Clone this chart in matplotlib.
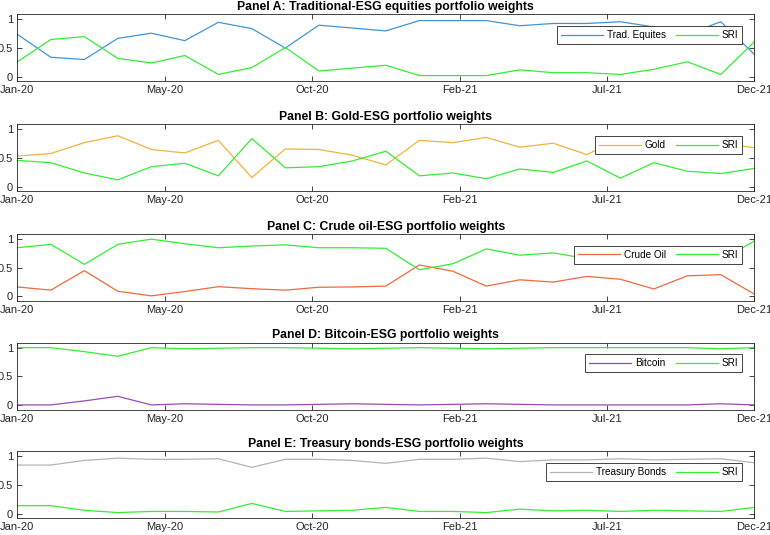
import numpy as np
import matplotlib
matplotlib.use("Agg")
import matplotlib.pyplot as plt

plt.rcParams["font.family"] = ["Liberation Sans", "DejaVu Sans"]

# monthly observations, Jan-20 .. Dec-21
date_labels = ["Jan-20", "May-20", "Oct-20", "Feb-21", "Jul-21", "Dec-21"]
n_obs = 23

# Panel A
equities = [0.74, 0.34, 0.30, 0.67, 0.76, 0.63, 0.95, 0.84, 0.50, 0.90, 0.85, 0.80,
            0.98, 0.98, 0.98, 0.89, 0.93, 0.93, 0.96, 0.87, 0.74, 0.96, 0.39]
sri_a = [0.26, 0.65, 0.70, 0.32, 0.24, 0.37, 0.04, 0.16, 0.51, 0.10, 0.15, 0.20,
         0.02, 0.02, 0.02, 0.12, 0.07, 0.07, 0.04, 0.13, 0.26, 0.04, 0.61]

# Panel B
gold = [0.535, 0.58, 0.77, 0.89, 0.65, 0.59, 0.81, 0.16, 0.66, 0.65, 0.55, 0.38,
        0.81, 0.77, 0.86, 0.69, 0.76, 0.56, 0.85, 0.58, 0.73, 0.77, 0.68]
sri_b = [0.46, 0.42, 0.24, 0.12, 0.35, 0.41, 0.19, 0.84, 0.33, 0.35, 0.45, 0.62,
         0.19, 0.24, 0.14, 0.31, 0.25, 0.45, 0.15, 0.42, 0.27, 0.23, 0.32]

# Panel C
crude = [0.165, 0.11, 0.45, 0.09, 0.01, 0.085, 0.17, 0.135, 0.11, 0.16, 0.165, 0.18,
         0.55, 0.44, 0.18, 0.29, 0.25, 0.35, 0.30, 0.13, 0.36, 0.38, 0.04]
sri_c = [0.85, 0.91, 0.56, 0.91, 1.00, 0.92, 0.85, 0.88, 0.90, 0.85, 0.85, 0.84,
         0.465, 0.57, 0.83, 0.72, 0.76, 0.66, 0.70, 0.87, 0.64, 0.62, 0.97]

# Panel D
bitcoin = [0.0, 0.0, 0.07, 0.15, 0.0, 0.02, 0.01, 0.0, 0.0, 0.01, 0.02, 0.01,
           0.0, 0.01, 0.02, 0.01, 0.0, 0.0, 0.0, 0.0, 0.0, 0.02, 0.0]
sri_d = [1.0, 1.0, 0.93, 0.85, 1.0, 0.98, 0.99, 1.0, 1.0, 0.99, 0.98, 0.99,
         1.0, 0.99, 0.98, 0.99, 1.0, 1.0, 1.0, 1.0, 1.0, 0.98, 1.0]

# Panel E
treasury = [0.85, 0.85, 0.93, 0.97, 0.95, 0.95, 0.96, 0.81, 0.95, 0.95, 0.93, 0.88,
            0.95, 0.95, 0.97, 0.91, 0.94, 0.94, 0.96, 0.94, 0.95, 0.96, 0.89]
sri_e = [0.14, 0.14, 0.06, 0.02, 0.04, 0.04, 0.03, 0.18, 0.04, 0.05, 0.06, 0.11,
         0.04, 0.04, 0.02, 0.08, 0.05, 0.06, 0.04, 0.06, 0.05, 0.04, 0.11]

panels = [
    ("Panel A: Traditional-ESG equities portfolio weights", "Trad. Equites", equities, "#3f95d8", sri_a),
    ("Panel B: Gold-ESG portfolio weights", "Gold", gold, "#efb43c", sri_b),
    ("Panel C: Crude oil-ESG portfolio weights", "Crude Oil", crude, "#ec6a3f", sri_c),
    ("Panel D: Bitcoin-ESG portfolio weights", "Bitcoin", bitcoin, "#9a4cb3", sri_d),
    ("Panel E: Treasury bonds-ESG portfolio weights", "Treasury Bonds", treasury, "#b4b4b4", sri_e),
]
sri_color = "#33ee33"
edge = "#262626"

W, H = 770, 535
fig = plt.figure(figsize=(W / 100, H / 100), dpi=100)

x = np.arange(n_obs)
left_px, right_px = 17.3, 754.3
bottoms_px = [81.3, 191.3, 301.0, 409.5, 518.3]
height_px = 67.0

for (title, name, vals, col, sri), bpx in zip(panels, bottoms_px):
    ax = fig.add_axes([left_px / W, 1 - bpx / H, (right_px - left_px) / W, height_px / H])
    ax.plot(x, vals, color=col, lw=0.9, label=name)
    ax.plot(x, sri, color=sri_color, lw=0.9, label="SRI")
    ax.set_xlim(0, n_obs - 1)
    ax.set_ylim(-0.08, 1.09)
    ax.set_xticks(np.linspace(0, n_obs - 1, len(date_labels)))
    ax.set_xticklabels(date_labels)
    ax.set_yticks([0, 0.5, 1])
    ax.set_yticklabels(["0", "0.5", "1"])
    ax.tick_params(direction="in", length=3.5, width=0.6, colors=edge, labelsize=8,
                   top=True, right=True, pad=3)
    for s in ax.spines.values():
        s.set_color(edge)
        s.set_linewidth(0.6)
    ax.set_title(title, fontsize=8.8, fontweight="bold", pad=3, color="black")
    leg = ax.legend(loc="upper right", bbox_to_anchor=(0.9837, 0.821), ncol=2,
                    fontsize=7.2, frameon=True, fancybox=False, framealpha=1,
                    edgecolor=edge, handlelength=4.2, handletextpad=0.4,
                    columnspacing=1.0, borderpad=0.4, borderaxespad=0)
    leg.get_frame().set_linewidth(0.6)

fig.savefig("out.png", dpi=100)
